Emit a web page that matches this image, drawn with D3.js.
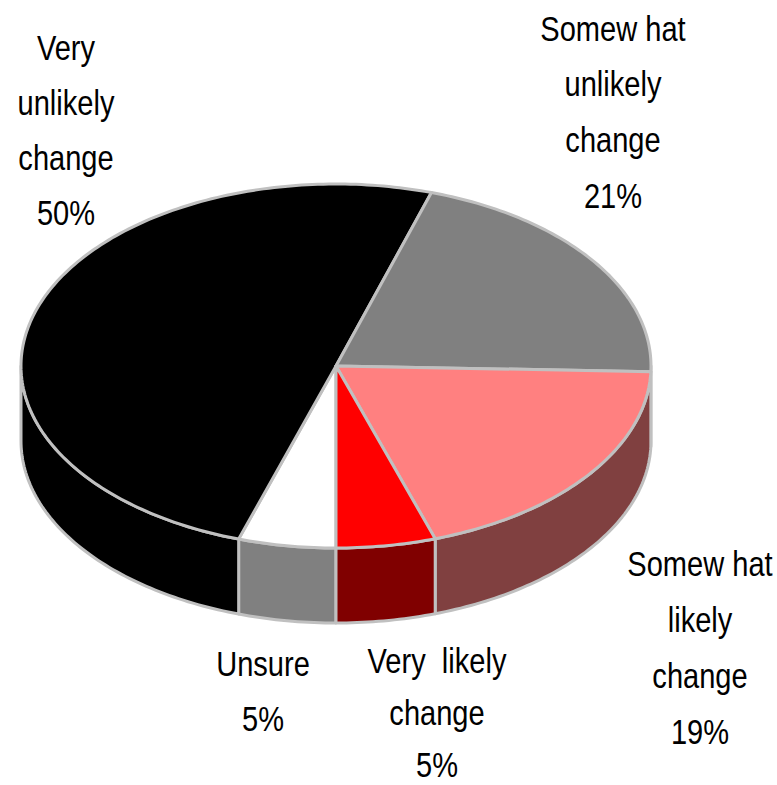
<!DOCTYPE html>
<html><head><meta charset="utf-8">
<script src="https://cdn.jsdelivr.net/npm/d3@7"></script>
<style>body{margin:0;background:#fff} svg{display:block}</style>
</head><body>
<svg id="c" width="777" height="785"></svg>
<script>
// ---- data ----
const categories = ["Unsure", "Very unlikely change", "Somewhat unlikely change", "Somewhat likely change", "Very likely change"];
const values = [5.0, 49.9, 20.6, 19.4, 5.1];
const labelLines = [
  ["Unsure", "5%"],
  ["Very", "unlikely", "change", "50%"],
  ["Somew hat", "unlikely", "change", "21%"],
  ["Somew hat", "likely", "change", "19%"],
  ["Very  likely", "change", "5%"]
];
const topColors = ["#FFFFFF", "#000000", "#808080", "#FF8080", "#FF0000"];
const sideColors = ["#808080", "#000000", "#404040", "#804040", "#800000"];

// ---- layout ----
const cx = 336, cy = 366, rx = 315, ry = 182, depth = 75;
const labelPos = [
  {x: 263, y: 675.5, dy: 55},
  {x: 66, y: 60, dy: 55},
  {x: 613, y: 40.5, dy: 55.7},
  {x: 700, y: 575.5, dy: 56},
  {x: 437, y: 673, dy: 52}
];

const svg = d3.select("#c");
const xs = d3.scaleLinear().domain([-1, 1]).range([cx - rx, cx + rx]);
const ys = d3.scaleLinear().domain([-1, 1]).range([cy - ry, cy + ry]);
const pt = (a, off = 0) => [xs(Math.sin(a)), ys(-Math.cos(a)) + off];

const arcs = d3.pie().sort(null).value(d => d).startAngle(Math.PI).endAngle(3 * Math.PI)(values);

function arcPts(a0, a1, off) {
  const n = Math.max(2, Math.ceil(Math.abs(a1 - a0) / (Math.PI / 180)));
  const out = [];
  for (let i = 0; i <= n; i++) out.push(pt(a0 + (a1 - a0) * i / n, off));
  return out;
}

const stroke = "#C0C0C0", sw = 3;
const line = d3.line();

// sides
const gSide = svg.append("g");
arcs.forEach((d, i) => {
  const ranges = [[Math.PI / 2, 3 * Math.PI / 2], [Math.PI / 2 + 2 * Math.PI, 3 * Math.PI / 2 + 2 * Math.PI]];
  ranges.forEach(([r0, r1]) => {
    const s = Math.max(d.startAngle, r0), e = Math.min(d.endAngle, r1);
    if (e - s > 1e-4) {
      const pts = arcPts(s, e, 0).concat(arcPts(e, s, depth));
      gSide.append("path").attr("d", line(pts) + "Z")
        .attr("fill", sideColors[i]).attr("stroke", stroke)
        .attr("stroke-width", sw).attr("stroke-linejoin", "round");
    }
  });
});

// tops
const gTop = svg.append("g");
arcs.forEach((d, i) => {
  const pts = [[cx, cy]].concat(arcPts(d.startAngle, d.endAngle, 0));
  gTop.append("path").attr("d", line(pts) + "Z")
    .attr("fill", topColors[i]).attr("stroke", stroke)
    .attr("stroke-width", sw).attr("stroke-linejoin", "round");
});

// labels
const gLab = svg.append("g")
  .attr("font-family", "'Liberation Sans', Arial, sans-serif")
  .attr("font-size", 35).attr("fill", "#000");
labelLines.forEach((lines, i) => {
  const p = labelPos[i];
  lines.forEach((t, j) => {
    gLab.append("text")
      .attr("transform", `translate(${p.x},${p.y + j * p.dy}) scale(0.83,1)`)
      .attr("text-anchor", "middle")
      .style("white-space", "pre")
      .text(t);
  });
});
</script>
</body></html>
